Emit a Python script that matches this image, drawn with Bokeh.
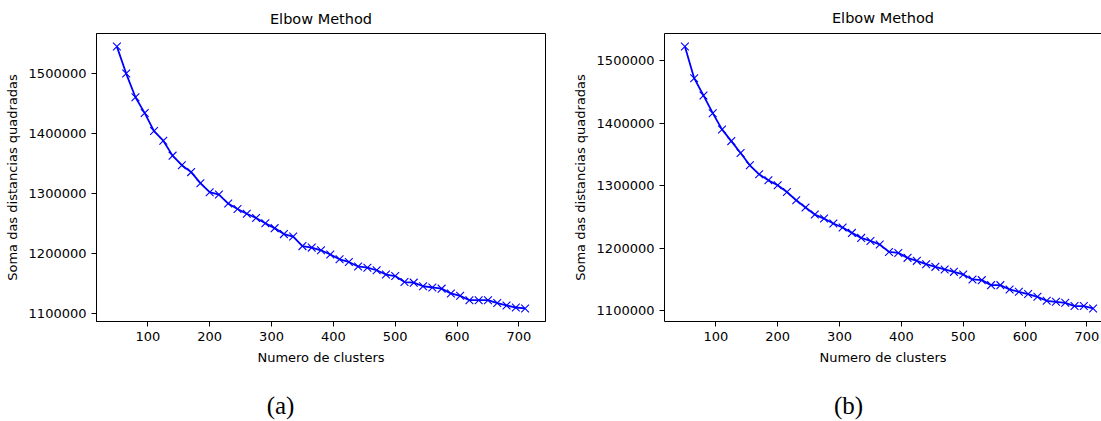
from bokeh.plotting import figure
from bokeh.layouts import row, column
from bokeh.models import (SingleIntervalTicker, BasicTickFormatter, Range1d, LinearAxis, Label)
from bokeh.embed import file_html
from bokeh.resources import INLINE

# ---- data ----
clusters = [50, 65, 80, 95, 110, 125, 140, 155, 170, 185, 200, 215, 230, 245, 260,
            275, 290, 305, 320, 335, 350, 365, 380, 395, 410, 425, 440, 455, 470, 485,
            500, 515, 530, 545, 560, 575, 590, 605, 620, 635, 650, 665, 680, 695, 710]

inertia_a = [1545000, 1500000, 1460500, 1434000, 1404000, 1388000, 1363000, 1347000, 1335500, 1317000,
             1302000, 1298000, 1283000, 1274000, 1266000, 1259000, 1250000, 1242000, 1232000, 1228000,
             1212000, 1209500, 1205000, 1198000, 1190000, 1185500, 1178000, 1176000, 1171700, 1164500,
             1162000, 1152000, 1151000, 1145000, 1143000, 1141000, 1133000, 1129000, 1121700, 1121700,
             1121700, 1117000, 1113000, 1109500, 1108000]

inertia_b = [1522300, 1471800, 1444200, 1415900, 1389900, 1371200, 1352100, 1332500, 1318100, 1308500,
             1300600, 1289900, 1276600, 1265000, 1253800, 1247400, 1239500, 1233100, 1224500, 1216500,
             1211700, 1205900, 1194100, 1192500, 1184600, 1179800, 1174500, 1170200, 1166100, 1162200,
             1158100, 1150100, 1149000, 1141000, 1141000, 1134100, 1130300, 1126700, 1122300, 1116000,
             1114400, 1112800, 1107500, 1107500, 1103800]

title_text = "Elbow Method"
x_label = "Numero de clusters"
y_label = "Soma das distancias quadradas"
captions = ["(a)", "(b)"]

FONT = "DejaVu Sans"
BLUE = "#0000ff"


def make_fig(values, width, border_left, border_right, frame_w, full_frame_w, right_line, title_standoff):
    height = 381
    top, bottom = 33, 60
    xmin, xmax = min(clusters), max(clusters)
    xspan = xmax - xmin
    x0 = xmin - 0.05 * xspan
    x1_full = xmax + 0.05 * xspan
    x1 = x0 + (x1_full - x0) * frame_w / full_frame_w
    ymin, ymax = min(values), max(values)
    yspan = ymax - ymin
    p = figure(width=width, height=height, output_backend="svg", toolbar_location=None,
               x_range=Range1d(x0, x1), y_range=Range1d(ymin - 0.05 * yspan, ymax + 0.05 * yspan),
               min_border_left=border_left, min_border_right=border_right,
               min_border_top=top, min_border_bottom=bottom)
    p.title.text = title_text
    p.title.align = "center"
    p.title.text_font = FONT
    p.title.text_font_size = "14.5px"
    p.title.text_font_style = "normal"
    p.title.text_color = "black"
    p.title.standoff = title_standoff

    p.xgrid.visible = False
    p.ygrid.visible = False
    p.background_fill_color = "white"
    p.border_fill_color = "white"

    p.xaxis.ticker = SingleIntervalTicker(interval=100, num_minor_ticks=0)
    p.yaxis.ticker = SingleIntervalTicker(interval=100000, num_minor_ticks=0)
    p.yaxis.formatter = BasicTickFormatter(use_scientific=False)
    for ax in (p.xaxis, p.yaxis):
        ax.major_tick_out = 5
        ax.major_tick_in = 0
        ax.minor_tick_line_color = None
        ax.major_tick_line_color = "black"
        ax.axis_line_color = "black"
        ax.axis_line_width = 1
        ax.major_label_text_font = FONT
        ax.major_label_text_font_size = "13px"
        ax.major_label_text_color = "black"
        ax.axis_label_text_font = FONT
        ax.axis_label_text_font_size = "13px"
        ax.axis_label_text_font_style = "normal"
        ax.axis_label_text_color = "black"
        ax.major_label_standoff = 5
        ax.axis_label_standoff = 6
    p.xaxis.axis_label = x_label
    p.yaxis.axis_label = y_label

    if right_line:
        p.outline_line_color = "black"
        p.outline_line_width = 1
    else:
        p.outline_line_color = None
        top_axis = LinearAxis(major_tick_line_color=None, minor_tick_line_color=None,
                              major_label_text_font_size="0px", major_label_text_color=None,
                              major_label_standoff=0, axis_label=None,
                              axis_label_standoff=0, axis_line_color="black", axis_line_width=1)
        p.add_layout(top_axis, "above")

    p.line(clusters, values, line_color=BLUE, line_width=1.8)
    p.scatter(clusters, values, marker="x", size=11, line_color=BLUE, line_width=1.1)
    return p


fa = make_fig(inertia_a, 560, 96, 15, 449, 449, True, 14)
fb = make_fig(inertia_b, 541, 104, 0, 437, 449, False, 4)

# caption strip below the two panels
cap = figure(width=1101, height=40, output_backend="svg", toolbar_location=None,
             x_range=Range1d(0, 1101), y_range=Range1d(0, 40),
             min_border_left=0, min_border_right=0, min_border_top=0, min_border_bottom=0)
cap.axis.visible = False
cap.xgrid.visible = False
cap.ygrid.visible = False
cap.outline_line_color = None
cap.background_fill_color = "white"
cap.border_fill_color = "white"
for text, cx in zip(captions, [280, 848]):
    cap.add_layout(Label(x=cx, y=16, text=text, text_align="center", text_baseline="middle",
                         text_font="Liberation Serif", text_font_size="25px", text_color="black"))

layout = column(row(fa, fb), cap)
open("out.html", "w").write(file_html(layout, INLINE))
